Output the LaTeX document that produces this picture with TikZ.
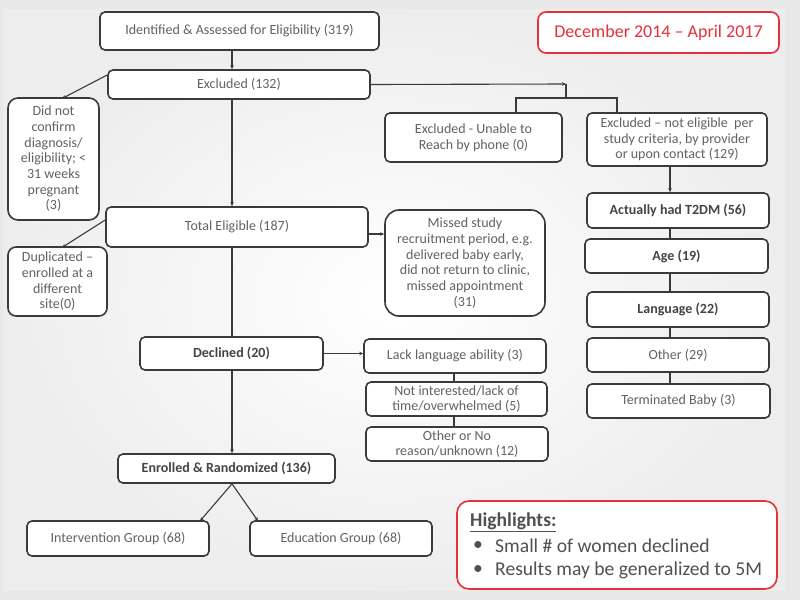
\documentclass[tikz,border=0pt]{standalone}
\usepackage{fontspec}
\setmainfont{Carlito}
\usetikzlibrary{arrows.meta}
\definecolor{txt}{HTML}{626262}
\definecolor{txtb}{HTML}{444444}
\definecolor{hltx}{HTML}{505050}
\definecolor{brd}{HTML}{3A3A3A}
\definecolor{redb}{HTML}{E8303A}
\begin{document}
\begin{tikzpicture}[x=1pt,y=-1pt,
  box/.style={draw=brd, line width=1.6pt, rounded corners=5pt, fill=white, text=txt, align=center,
    font=\fontsize{14}{15.7}\selectfont, inner sep=2pt},
  bbox/.style={box, text=txtb, font=\fontsize{14}{15.7}\selectfont\bfseries},
  conn/.style={draw=brd, line width=1.1pt},
  arr/.style={conn, -{Stealth[length=4pt,width=3.5pt]}},
  redbox/.style={draw=redb, line width=1.6pt, rounded corners=8pt, fill=white},
  hltext/.style={anchor=west, text=hltx, font=\fontsize{19.6}{24}\selectfont, inner sep=0pt}
]
\useasboundingbox (0,0) rectangle (800,600);
\fill[gray!18] (0,0) rectangle (800,600);
\shade[inner color=white, outer color=gray!14] (3,9) rectangle (786,590);

% nodes
\node[box, minimum width=279pt, minimum height=38pt] (ident) at (239.5,31) {Identified \& Assessed for Eligibility (319)};
\node[box, minimum width=262pt, minimum height=29pt] (excl) at (239,84.5) {Excluded (132)};
\node[box, minimum width=91pt, minimum height=122pt, rounded corners=10pt] (dnc) at (53.5,159) {Did not\\ confirm\\ diagnosis/\\ eligibility; <\\ 31 weeks\\ pregnant\\ (3)};
\node[box, minimum width=177pt, minimum height=49pt] (unable) at (473.5,137.5) {Excluded - Unable to\\ Reach by phone (0)};
\node[box, minimum width=180pt, minimum height=53pt] (noteli) at (677,139.5) {Excluded -- not eligible\ \ per\\ study criteria, by provider\\ or upon contact (129)};
\node[bbox, minimum width=182pt, minimum height=35pt] (t2dm) at (678,210.5) {Actually had T2DM (56)};
\node[box, minimum width=262pt, minimum height=40pt] (total) at (237,227) {Total Eligible (187)};
\node[box, minimum width=99pt, minimum height=69pt, rounded corners=8pt] (dup) at (57.5,281.5) {Duplicated --\\ enrolled at a\\ different\\ site(0)};
\node[box, minimum width=160pt, minimum height=106pt, rounded corners=14pt] (missed) at (465,263) {Missed study\\ recruitment period, e.g.\\ delivered baby early,\\ did not return to clinic,\\ missed appointment\\ (31)};
\node[bbox, minimum width=183pt, minimum height=34pt] (age) at (676.5,256) {Age (19)};
\node[bbox, minimum width=182pt, minimum height=35pt] (lang) at (678,309.5) {Language (22)};
\node[box, minimum width=182pt, minimum height=34pt] (other) at (678,355) {Other (29)};
\node[box, minimum width=183pt, minimum height=34pt] (term) at (678.5,401) {Terminated Baby (3)};
\node[bbox, minimum width=183pt, minimum height=33pt] (decl) at (231.5,353.5) {Declined (20)};
\node[box, minimum width=182pt, minimum height=34pt] (lack) at (455,356) {Lack language ability (3)};
\node[box, minimum width=181pt, minimum height=34pt, inner sep=1pt] (notint) at (456.5,399) {Not interested/lack of\\ time/overwhelmed (5)};
\node[box, minimum width=182pt, minimum height=34pt, inner sep=1pt] (othno) at (457,444) {Other or No\\ reason/unknown (12)};
\node[bbox, minimum width=217pt, minimum height=29pt] (enr) at (226.5,468.5) {Enrolled \& Randomized (136)};
\node[box, minimum width=182pt, minimum height=35pt] (interv) at (118,538.5) {Intervention Group (68)};
\node[box, minimum width=182pt, minimum height=35pt] (educ) at (341,538.5) {Education Group (68)};

\node[redbox, minimum width=241pt, minimum height=41pt, text=redb, font=\fontsize{18}{20}\selectfont] (date) at (658.5,32.5) {December 2014 -- April 2017};
\node[redbox, minimum width=320pt, minimum height=88pt, rounded corners=12pt] (hl) at (617,545) {};
\node[hltext, font=\fontsize{19.6}{24}\selectfont\bfseries] (hlh) at (470,522) {\underline{Highlights:}};
\node[hltext] (b1) at (473,546) {\textbullet};
\node[hltext] (hl1) at (495,546) {Small \# of women declined};
\node[hltext] (b2) at (473,570) {\textbullet};
\node[hltext] (hl2) at (495,570) {Results may be generalized to 5M};

% connectors
\draw[arr] (ident.south -| 232,0) -- (excl.north -| 232,0);
\draw[arr] (excl.west |- 0,75) -- (62,98.5) coordinate (dnctop);
\draw[arr] (excl.south -| 232,0) -- (total.north -| 232,0);
\coordinate (br) at (566,84);
\coordinate (brd) at (566,98);
\draw[arr] (excl.east) -- (br);
\draw[conn] (br) -- (brd);
\draw[conn] (unable.north -| 516,0) |- (brd) -| (noteli.north -| 617,0);
\draw[arr] (noteli.south -| 670,0) -- (t2dm.north -| 670,0);
\draw[conn] (t2dm.south -| 670,0) -- (age.north -| 670,0);
\draw[conn] (age.south -| 670,0) -- (lang.north -| 670,0);
\draw[conn] (lang.south -| 670,0) -- (other.north -| 670,0);
\draw[conn] (other.south -| 670,0) -- (term.north -| 670,0);
\draw[arr] (total.west |- 0,220) -- (62,247.5) coordinate (duptop);
\draw[arr] (total.east |- 0,234) -- (missed.west |- 0,234);
\draw[conn] (total.south -| 232,0) -- (decl.north -| 232,0);
\draw[arr] (decl.east) -- (lack.west |- decl.east);
\draw[conn] (lack.south -| 454,0) -- (notint.north -| 454,0);
\draw[conn] (notint.south -| 454,0) -- (othno.north -| 454,0);
\draw[arr] (decl.south -| 232,0) -- (enr.north -| 232,0);
\draw[arr] (enr.south -| 232,0) -- (200,521) coordinate (ivtop);
\draw[arr] (enr.south -| 232,0) -- (258,521) coordinate (edtop);
\end{tikzpicture}
\end{document}
